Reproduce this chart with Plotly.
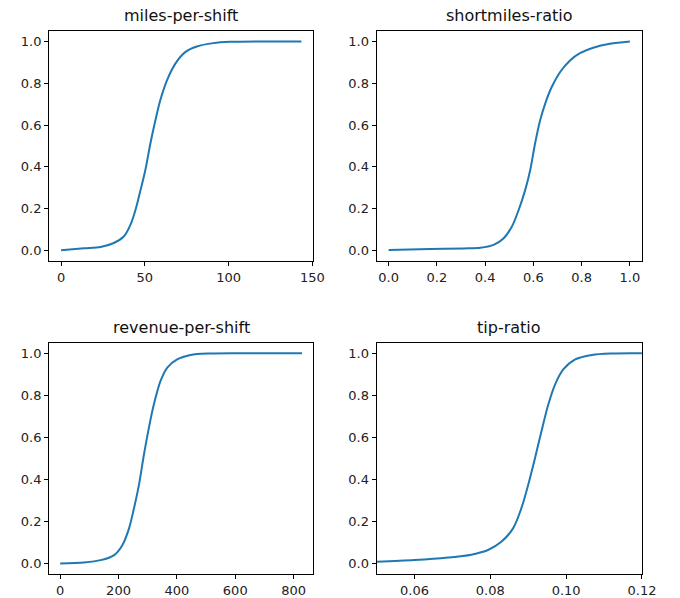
import plotly.graph_objects as go

# Empirical CDF curves for four per-shift metrics
miles_x = [0, 13.7, 23.6, 31.5, 37.4, 41.4, 44.4, 47.4, 50.3, 53.3, 56.3, 59.2, 63.2, 68.2, 74.1, 81.0, 90.9, 100.8, 120, 143.4]
miles_y = [0.002, 0.011, 0.017, 0.036, 0.067, 0.123, 0.194, 0.289, 0.385, 0.512, 0.623, 0.719, 0.814, 0.894, 0.949, 0.976, 0.992, 0.998, 1.0, 1.0]

short_x = [0.0, 0.174, 0.311, 0.380, 0.435, 0.477, 0.511, 0.539, 0.566, 0.587, 0.607, 0.628, 0.649, 0.676, 0.711, 0.752, 0.793, 0.848, 0.917, 1.0]
short_y = [0.003, 0.007, 0.010, 0.013, 0.027, 0.059, 0.115, 0.194, 0.289, 0.385, 0.512, 0.623, 0.703, 0.782, 0.854, 0.909, 0.944, 0.970, 0.989, 1.0]

rev_x = [0, 82, 139, 185, 213, 236, 253, 270, 287, 304, 321, 344, 367, 401, 447, 515, 650, 829]
rev_y = [0.0, 0.005, 0.016, 0.040, 0.087, 0.167, 0.263, 0.374, 0.517, 0.645, 0.756, 0.868, 0.932, 0.971, 0.992, 0.999, 1.0, 1.0]

tip_x = [0.0501, 0.06, 0.0688, 0.075, 0.0794, 0.0829, 0.0860, 0.0882, 0.0900, 0.0918, 0.0935, 0.0953, 0.0971, 0.0993, 0.1024, 0.1068, 0.1121, 0.12]
tip_y = [0.008, 0.016, 0.028, 0.042, 0.064, 0.103, 0.167, 0.263, 0.374, 0.502, 0.629, 0.756, 0.852, 0.924, 0.971, 0.992, 0.999, 1.0]

titles = ["miles-per-shift", "shortmiles-ratio", "revenue-per-shift", "tip-ratio"]
y_ticks = [0.0, 0.2, 0.4, 0.6, 0.8, 1.0]
x_ticks = [
    [0, 50, 100, 150],
    [0.0, 0.2, 0.4, 0.6, 0.8, 1.0],
    [0, 200, 400, 600, 800],
    [0.06, 0.08, 0.10, 0.12],
]
x_formats = ["d", ".1f", "d", ".2f"]
x_ranges = [[-7.15, 150.6], [-0.05, 1.05], [-38, 868], [0.05, 0.12]]

series = [(miles_x, miles_y), (short_x, short_y), (rev_x, rev_y), (tip_x, tip_y)]

W, H = 680, 598
col_dom = [[49 / W, 313 / W], [376 / W, 641 / W]]
row_dom = [[1 - 261 / H, 1 - 31 / H], [1 - 574 / H, 1 - 342.7 / H]]

BLUE = "#1f77b4"
font = dict(family="DejaVu Sans", size=13, color="#222222")

fig = go.Figure()
annotations = []
for i, (xs, ys) in enumerate(series):
    r, c = divmod(i, 2)
    n = "" if i == 0 else str(i + 1)
    fig.add_trace(go.Scatter(
        x=xs, y=ys, mode="lines",
        line=dict(color=BLUE, width=2, shape="spline", smoothing=0.9),
        xaxis="x" + n, yaxis="y" + n, showlegend=False,
    ))
    axis_common = dict(
        showline=True, mirror=True, linecolor="#000000", linewidth=1,
        ticks="outside", ticklen=4, tickcolor="#000000", tickwidth=1,
        showgrid=False, zeroline=False, tickfont=font,
    )
    fig.layout["xaxis" + n] = dict(
        domain=col_dom[c], anchor="y" + n, range=x_ranges[i],
        tickmode="array", tickvals=x_ticks[i], tickformat=x_formats[i],
        **axis_common,
    )
    fig.layout["yaxis" + n] = dict(
        domain=row_dom[r], anchor="x" + n, range=[-0.05, 1.05],
        tickmode="array", tickvals=y_ticks, tickformat=".1f",
        **axis_common,
    )
    annotations.append(dict(
        text=titles[i], xref="paper", yref="paper",
        x=sum(col_dom[c]) / 2, y=row_dom[r][1],
        xanchor="center", yanchor="bottom", yshift=4, showarrow=False,
        font=dict(family="DejaVu Sans", size=16, color="#111111"),
    ))

fig.update_layout(
    width=695, height=H, autosize=False,
    margin=dict(l=0, r=0, t=0, b=0),
    paper_bgcolor="white", plot_bgcolor="white",
    annotations=annotations,
)

fig.write_html(
    "out.html",
    config={"responsive": False, "displayModeBar": False},
)
